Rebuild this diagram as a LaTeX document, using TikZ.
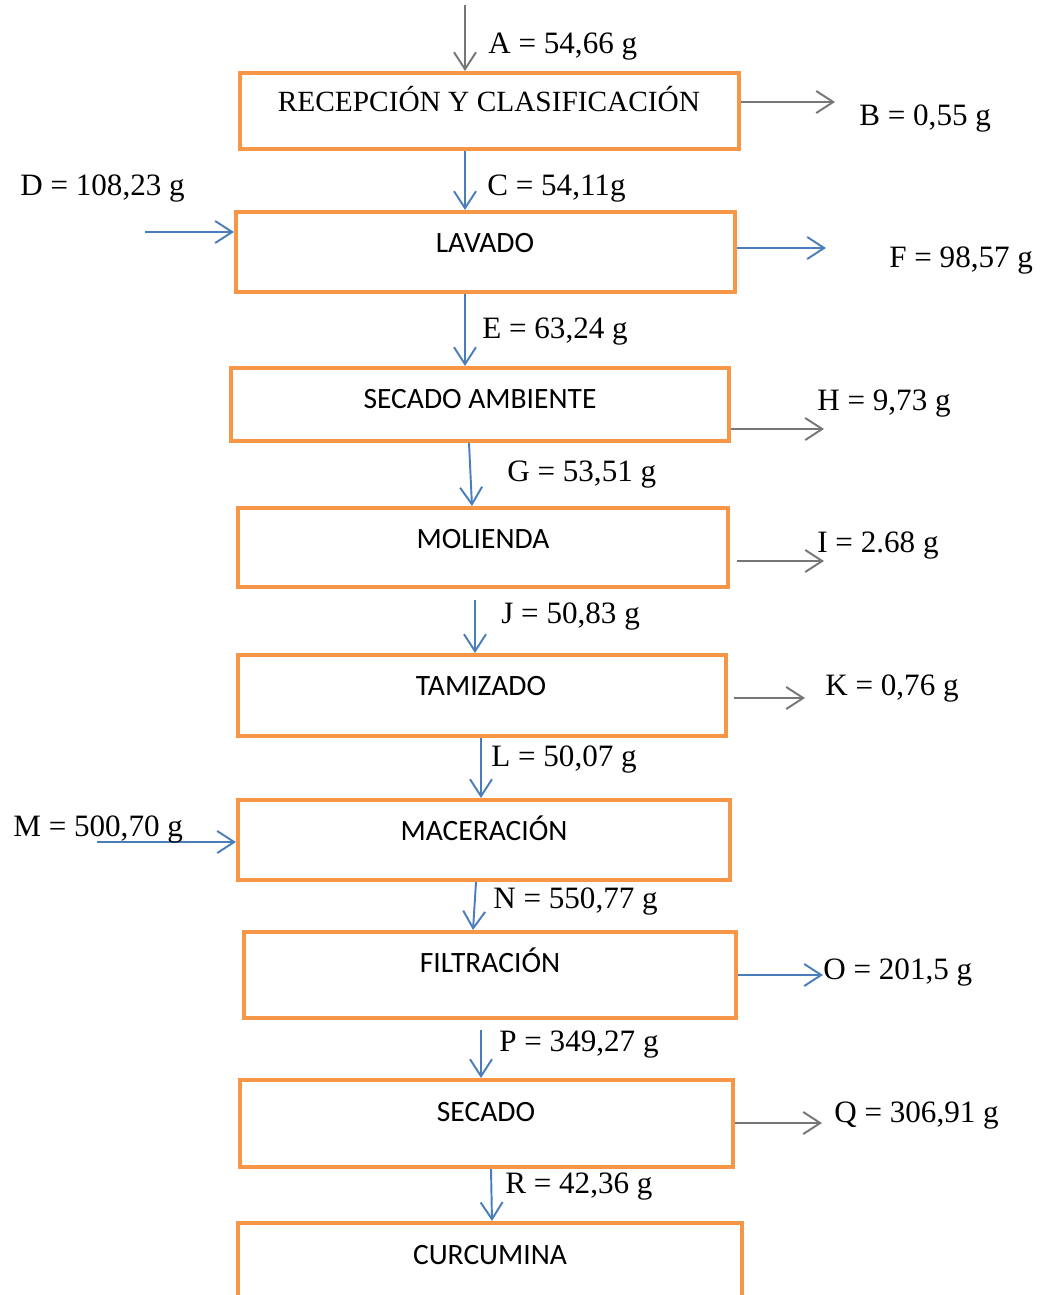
\documentclass[tikz,border=0pt]{standalone}
\usepackage{fontspec}
\setmainfont{Liberation Serif}
\newfontfamily\boxfont{Carlito}
\usetikzlibrary{arrows.meta}

\definecolor{naranja}{HTML}{F79646}
\definecolor{azul}{HTML}{4A7EBB}
\definecolor{gris}{HTML}{767676}

\tikzset{
	caja/.style={draw=naranja, line width=2.3pt, inner sep=0pt},
	titulo/.style={font=\boxfont\fontsize{16.8}{19}\selectfont, anchor=base, inner sep=0pt},
	dato/.style={font=\fontsize{17.7}{20}\selectfont, anchor=base west, inner sep=0pt},
	flecha/.style={line width=1.1pt, -{Straight Barb[length=3.4mm,width=4.4mm,line width=1.1pt]}},
	az/.style={flecha, draw=azul},
	gr/.style={flecha, draw=gris}
}

\begin{document}
\begin{tikzpicture}[x=0.02cm, y=-0.02cm]

	\clip (0,0) rectangle (1040,1295);
	\fill[white] (0,0) rectangle (1040,1295);

	% cajas del proceso
	\node[caja, minimum width=499*0.02cm, minimum height=76*0.02cm] (rec) at (489.5,111) {};
	\node[caja, minimum width=499*0.02cm, minimum height=80*0.02cm] (lav) at (485.5,252) {};
	\node[caja, minimum width=498*0.02cm, minimum height=73*0.02cm] (sam) at (480,404.5) {};
	\node[caja, minimum width=490*0.02cm, minimum height=79*0.02cm] (mol) at (483,547.5) {};
	\node[caja, minimum width=488*0.02cm, minimum height=81*0.02cm] (tam) at (482,695.5) {};
	\node[caja, minimum width=492*0.02cm, minimum height=80*0.02cm] (mac) at (484,840) {};
	\node[caja, minimum width=492*0.02cm, minimum height=86*0.02cm] (fil) at (490,975) {};
	\node[caja, minimum width=493*0.02cm, minimum height=87*0.02cm] (sec) at (486.5,1123.5) {};
	\node[caja, minimum width=504*0.02cm, minimum height=120*0.02cm] (cur) at (490,1283) {};

	\node[titulo, font=\fontsize{16.7}{19}\selectfont] (recT) at (489,111) {RECEPCIÓN Y CLASIFICACIÓN};
	\node[titulo] (lavT) at (485,252) {LAVADO};
	\node[titulo] (samT) at (480,408) {SECADO AMBIENTE};
	\node[titulo] (molT) at (483,548) {MOLIENDA};
	\node[titulo] (tamT) at (481,695) {TAMIZADO};
	\node[titulo] (macT) at (484,840) {MACERACIÓN};
	\node[titulo] (filT) at (490,972) {FILTRACIÓN};
	\node[titulo] (secT) at (486,1121) {SECADO};
	\node[titulo] (curT) at (490,1264) {CURCUMINA};

	% extremos libres
	\coordinate (a) at (465,5);
	\coordinate (b) at (835,102);
	\coordinate (d) at (145,232);
	\coordinate (f) at (826,248);
	\coordinate (h) at (824,429);
	\coordinate (i) at (824,561);
	\coordinate (k) at (805,698);
	\coordinate (m) at (97,842);
	\coordinate (o) at (823,975);
	\coordinate (q) at (822,1123);
	\coordinate (j) at (475,600);
	\coordinate (p) at (481,1030);

	% flechas
	\draw[gr] (a) -- (a |- rec.north);
	\draw[gr] (rec.east |- b) -- (b);
	\draw[az] (465,0 |- rec.south) -- (465,0 |- lav.north);
	\draw[az] (d) -- (lav.west |- d);
	\draw[az] (lav.east |- f) -- (f);
	\draw[az] (465,0 |- lav.south) -- (465,0 |- sam.north);
	\draw[gr] (sam.east |- h) -- (h);
	\draw[az] (469,0 |- sam.south) -- (472,0 |- mol.north);
	\draw[gr] (737,561) -- (i);
	\draw[az] (j) -- (j |- tam.north);
	\draw[gr] (734,698) -- (k);
	\draw[az] (481,0 |- tam.south) -- (481,0 |- mac.north);
	\draw[az] (m) -- (mac.west |- m);
	\draw[az] (476,0 |- mac.south) -- (473,0 |- fil.north);
	\draw[az] (fil.east |- o) -- (o);
	\draw[az] (p) -- (p |- sec.north);
	\draw[gr] (sec.east |- q) -- (q);
	\draw[az] (491,0 |- sec.south) -- (492,0 |- cur.north);

	% datos
	\node[dato] (A) at (488,53) {A = 54,66 g};
	\node[dato] (B) at (859,125) {B = 0,55 g};
	\node[dato] (C) at (487,195) {C = 54,11g};
	\node[dato] (D) at (20,195) {D = 108,23 g};
	\node[dato] (F) at (889,267) {F = 98,57 g};
	\node[dato] (E) at (482,338) {E = 63,24 g};
	\node[dato] (H) at (817,410) {H = 9,73 g};
	\node[dato] (G) at (507,481) {G = 53,51 g};
	\node[dato] (I) at (817,552) {I = 2.68 g};
	\node[dato] (J) at (501,623) {J = 50,83 g};
	\node[dato] (K) at (825,695) {K = 0,76 g};
	\node[dato] (L) at (491,766) {L = 50,07 g};
	\node[dato] (M) at (13,836) {M = 500,70 g};
	\node[dato] (N) at (493,908) {N = 550,77 g};
	\node[dato] (O) at (823,979) {O = 201,5 g};
	\node[dato] (P) at (499,1051) {P = 349,27 g};
	\node[dato] (Q) at (834,1122) {Q = 306,91 g};
	\node[dato] (R) at (505,1193) {R = 42,36 g};

\end{tikzpicture}
\end{document}
